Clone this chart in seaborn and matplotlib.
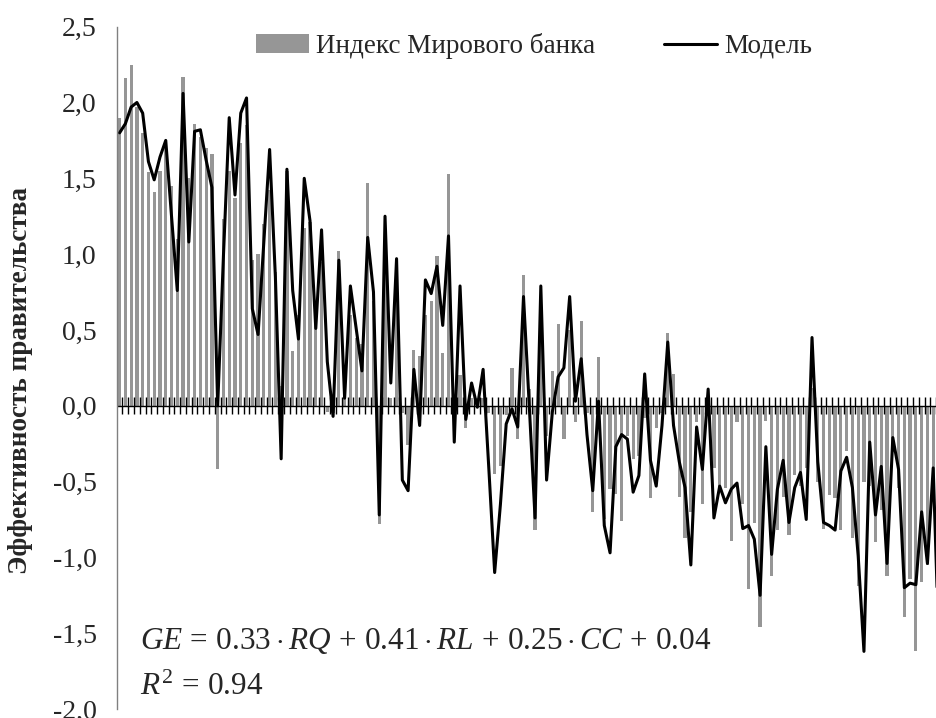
import matplotlib
matplotlib.use("Agg")
import matplotlib.pyplot as plt
from matplotlib.patches import Patch
from matplotlib.lines import Line2D
from matplotlib.ticker import FuncFormatter
import numpy as np
import seaborn as sns

# Значения индекса Мирового банка (серые столбики) по странам
bank_index = [
    1.90, 2.16, 2.25, 1.97, 1.80, 1.54, 1.41, 1.55, 1.70, 1.45,
    1.10, 2.17, 1.50, 1.86, 1.77, 1.70, 1.66, -0.42, 1.23, 1.55,
    1.37, 1.73, 1.85, 0.96, 1.00, 1.20, 1.42, 0.88, 0.13, 1.55,
    0.36, 0.60, 1.17, 1.21, 0.60, 0.95, -0.04, -0.05, 1.02, 0.10,
    0.60, 0.45, 0.41, 1.47, 0.69, -0.78, 0.95, 0.05, 0.85, -0.05,
    -0.26, 0.37, 0.33, 0.60, 0.69, 0.99, 0.35, 1.53, -0.05, 0.20,
    -0.15, 0.05, 0.05, 0.05, -0.05, -0.45, -0.40, -0.06, 0.25, -0.22,
    0.86, 0.11, -0.82, 0.70, -0.20, 0.23, 0.54, -0.22, 0.50, -0.11,
    0.56, -0.05, -0.70, 0.32, -0.75, -0.55, -0.58, -0.76, -0.20, -0.35,
    -0.33, -0.08, -0.61, -0.15, -0.05, 0.48, 0.21, -0.60, -0.87, -0.70,
    -0.11, -0.65, 0.05, -0.41, -0.55, -0.54, -0.89, -0.11, -0.65, -1.21,
    -0.77, -1.46, -0.10, -1.12, -0.82, -0.60, -0.85, -0.46, -0.53, -0.41,
    0.12, -0.50, -0.81, -0.59, -0.61, -0.82, -0.30, -0.87, -1.19, -0.50,
    -0.53, -0.90, -0.69, -1.12, -0.30, -0.54, -1.39, -1.14, -1.62, -1.16,
    -1.05, -0.60, -1.40,
]

# Значения модели (чёрная линия)
model = [
    1.80, 1.86, 1.97, 2.00, 1.93, 1.61, 1.49, 1.64, 1.75, 1.25,
    0.76, 2.06, 1.08, 1.81, 1.82, 1.62, 1.44, 0.00, 0.99, 1.90,
    1.39, 1.93, 2.03, 0.64, 0.47, 1.08, 1.69, 0.85, -0.35, 1.56,
    0.76, 0.44, 1.50, 1.22, 0.51, 1.16, 0.29, -0.07, 0.96, 0.05,
    0.79, 0.51, 0.23, 1.11, 0.75, -0.72, 1.25, 0.15, 0.97, -0.49,
    -0.56, 0.24, -0.13, 0.83, 0.74, 0.92, 0.53, 1.12, -0.24, 0.79,
    -0.09, 0.15, -0.01, 0.24, -0.42, -1.10, -0.65, -0.12, -0.02, -0.14,
    0.72, 0.00, -0.74, 0.79, -0.49, -0.04, 0.19, 0.25, 0.72, 0.03,
    0.31, -0.19, -0.56, 0.03, -0.79, -0.97, -0.27, -0.19, -0.22, -0.57,
    -0.46, 0.21, -0.36, -0.53, -0.13, 0.42, -0.13, -0.37, -0.54, -1.05,
    -0.14, -0.42, 0.11, -0.74, -0.53, -0.64, -0.55, -0.51, -0.81, -0.79,
    -0.88, -1.25, -0.27, -0.98, -0.55, -0.36, -0.77, -0.54, -0.44, -0.75,
    0.45, -0.37, -0.77, -0.79, -0.82, -0.43, -0.34, -0.54, -0.99, -1.62,
    -0.24, -0.72, -0.40, -1.04, -0.21, -0.42, -1.20, -1.17, -1.18, -0.70,
    -1.04, -0.41, -1.60,
]

y_ticks = [-2.0, -1.5, -1.0, -0.5, 0.0, 0.5, 1.0, 1.5, 2.0, 2.5]

countries = np.arange(len(bank_index))

sns.set_style("white")
plt.rcParams["font.family"] = ["Liberation Serif", "DejaVu Serif"]
plt.rcParams["mathtext.fontset"] = "custom"
plt.rcParams["mathtext.rm"] = "Liberation Serif"
plt.rcParams["mathtext.it"] = "Liberation Serif:italic"

bar_color = "#969696"
axis_gray = "#808080"

fig = plt.figure(figsize=(9.37, 7.18), dpi=100)
ax = fig.add_axes([0.12455, 0.01253, 0.87545, 0.9503])

sns.barplot(x=countries, y=bank_index, color=bar_color, saturation=1,
            width=0.56, native_scale=True, errorbar=None,
            edgecolor="none", linewidth=0, ax=ax)
sns.lineplot(x=countries, y=model, color="black", linewidth=2.2, ax=ax)

ax.set_xlim(-0.5, 141.66)
ax.set_ylim(-2.0, 2.5)

# ось категорий на нуле с крестообразными засечками
ax.axhline(0, color="black", lw=1)
ax.vlines(np.arange(len(bank_index)) + 0.5, -0.057, 0.057, color="black", lw=1)

for side in ["top", "right", "bottom"]:
    ax.spines[side].set_visible(False)
ax.spines["left"].set_color(axis_gray)
ax.spines["left"].set_linewidth(1)
ax.set_xticks([])
ax.set_yticks(y_ticks)
ax.yaxis.set_major_formatter(FuncFormatter(lambda v, p: f"{v:.1f}".replace(".", ",")))
ax.tick_params(axis="y", direction="inout", length=11, width=1, color=axis_gray,
               labelsize=20, pad=9)

ax.set_ylabel("Эффективность правительства", fontsize=19.5, fontweight="bold")
ax.yaxis.set_label_coords(-0.102, 0.481)

handles = [Patch(facecolor=bar_color, edgecolor="none"),
           Line2D([0], [0], color="black", lw=2.2)]
fig.legend(handles, ["Индекс Мирового банка", "Модель"], loc="upper left",
           bbox_to_anchor=(256 / 937, 1 - 33 / 718), ncol=2, frameon=False,
           fontsize=19.5, handlelength=1.96, handletextpad=0.26, columnspacing=2.55,
           borderpad=0, borderaxespad=0)

fig.text(140 / 937, 1 - 649 / 718,
         r"$GE\,=\,0.33 \cdot RQ\,+\,0.41 \cdot RL\,+\,0.25 \cdot CC\,+\,0.04$",
         fontsize=22.5, va="baseline", ha="left")
fig.text(140 / 937, 1 - 695 / 718, r"$R^2\,=\,0.94$",
         fontsize=22.5, va="baseline", ha="left")

fig.savefig("out.png", dpi=100)
